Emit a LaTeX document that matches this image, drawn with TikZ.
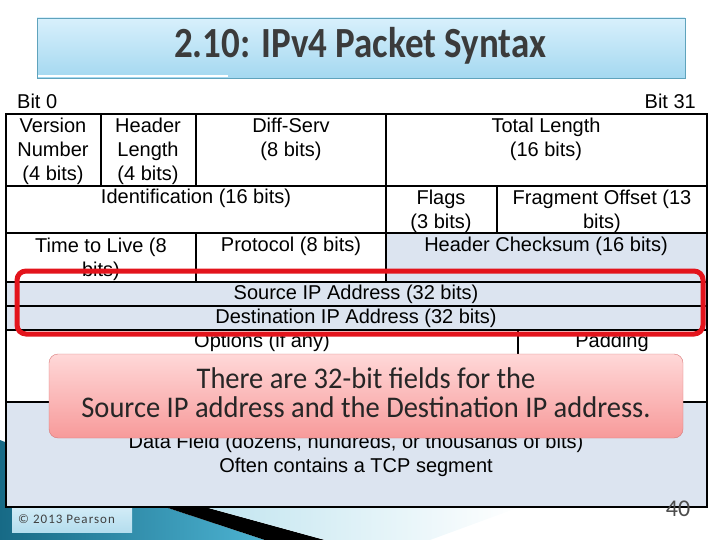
\documentclass[tikz,border=0pt]{standalone}
\usepackage{fontspec}
\setmainfont{Liberation Sans}
\newfontfamily\slidefont{Carlito}

\definecolor{cellblue}{HTML}{DCE4F0}
\definecolor{titletop}{HTML}{D8F0FC}
\definecolor{titlebot}{HTML}{A4D8F0}
\definecolor{titleline}{HTML}{5FA3BC}
\definecolor{titletext}{HTML}{3B3B3B}
\definecolor{markred}{HTML}{E3141C}
\definecolor{notetop}{HTML}{FFD8D8}
\definecolor{notebot}{HTML}{F79A9A}
\definecolor{noteline}{HTML}{D77878}
\definecolor{tealdark}{HTML}{176A86}
\definecolor{teallight}{HTML}{4DB3D2}
\definecolor{foottop}{HTML}{D6EEF8}
\definecolor{footbot}{HTML}{B4DDEE}

\tikzset{
  field/.style={font=\fontsize{20}{24}\selectfont, align=center, inner sep=0pt},
  grid/.style={line width=1.3pt},
  frame/.style={line width=2pt},
}

\begin{document}
\begin{tikzpicture}[x=1pt,y=-1pt]
  \useasboundingbox (0,0) rectangle (720,540);
  \shade[left color=tealdark, right color=teallight]
    (0,440) -- (165,507) -- (265,540) -- (0,540) -- cycle;
  \fill[black] (165,507) -- (205,507) -- (325,540) -- (265,540) -- cycle;
  \shade[left color=teallight!35, right color=white]
    (205,507) -- (520,507) -- (430,540) -- (325,540) -- cycle;
  \shade[top color=foottop, bottom color=footbot] (12,504) rectangle (132,532);
  \node[font=\slidefont\fontsize{13}{14}\selectfont, text=black!75, anchor=west, inner sep=0pt]
    (foot) at (18,519) {\addfontfeature{LetterSpace=8}© 2013 Pearson};

  \shadedraw[top color=titletop, bottom color=titlebot, draw=titleline] (37,18) rectangle (685,78);
  \draw[white, line width=1.2pt] (38,76) -- (228,76);
  \node[font=\slidefont\bfseries\fontsize{43}{48}\selectfont, text=titletext, inner sep=0pt]
    (title) at (360,46) {\scalebox{0.86}[1]{2.10: IPv4 Packet Syntax}};

  \fill[cellblue] (386,233) rectangle (707,282);
  \fill[cellblue] (6,282) rectangle (707,330);
  \fill[cellblue] (6,402) rectangle (707,507);
  \foreach \y in {186,233,282,306,330,402}
    \draw[grid] (6,\y) -- (707,\y);
  \draw[grid] (101,114) -- (101,186);
  \draw[grid] (196,114) -- (196,186);
  \draw[grid] (386,114) -- (386,186);
  \draw[grid] (386,186) -- (386,233);
  \draw[grid] (497,186) -- (497,233);
  \draw[grid] (196,233) -- (196,282);
  \draw[grid] (386,233) -- (386,282);
  \draw[grid] (518,330) -- (518,402);
  \draw[frame] (6,114) rectangle (707,507);

  \node[field, anchor=west] (bit0) at (17,101) {Bit 0};
  \node[field, anchor=east] (bit31) at (696,101) {Bit 31};
  \node[field] (ver) at (53,151) {Version\\Number\\(4 bits)};
  \node[field] (hlen) at (148,151) {Header\\Length\\(4 bits)};
  \node[field] (dsrv) at (291,139) {Diff-Serv\\(8 bits)};
  \node[field] (tlen) at (546,139) {Total Length\\(16 bits)};
  \node[field] (ident) at (196,198) {Identification (16 bits)};
  \node[field] (flags) at (441,211) {Flags\\(3 bits)};
  \node[field] (frag) at (602,211) {Fragment Offset (13\\bits)};
  \node[field] (ttl) at (101,259) {Time to Live (8\\bits)};
  \node[field] (proto) at (291,246) {Protocol (8 bits)};
  \node[field] (hcsum) at (546,246) {Header Checksum (16 bits)};
  \node[field] (src) at (356,294) {Source IP Address (32 bits)};
  \node[field] (dst) at (356,318) {Destination IP Address (32 bits)};
  \node[field] (opts) at (262,342) {Options (if any)};
  \node[field] (pad) at (612,342) {Padding};
  \node[field] (data) at (356,455) {Data Field (dozens, hundreds, or thousands of bits)\\Often contains a TCP segment};

  \draw[markred, line width=5pt, rounded corners=9pt] (17,271) rectangle (703,334);

  \shadedraw[top color=notetop, bottom color=notebot, draw=noteline, rounded corners=9pt]
    (49,354) rectangle (683,438);
  \node[font=\slidefont\fontsize{30}{29}\selectfont, text=black!85, align=center, inner sep=0pt]
    (note) at (366,393) {\scalebox{0.95}[1]{There are 32-bit fields for the}\\
      \scalebox{0.95}[1]{Source IP address and the Destination IP address.}};

  \node[font=\slidefont\fontsize{24}{26}\selectfont, text=black!70, inner sep=0pt]
    (page) at (678,509) {40};
\end{tikzpicture}
\end{document}
